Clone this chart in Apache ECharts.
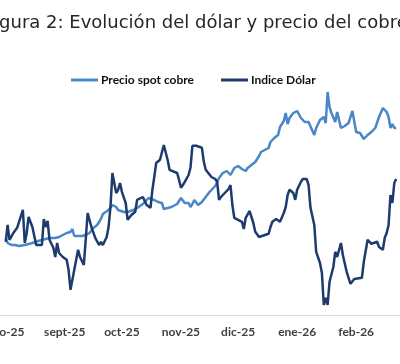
<!DOCTYPE html>
<html>
<head>
<meta charset="utf-8">
<script src="https://cdn.jsdelivr.net/npm/echarts@6/dist/echarts.min.js"></script>
<style>
html,body{margin:0;padding:0;background:#fff;}
#chart{width:400px;height:364px;}
</style>
</head>
<body>
<div id="chart"></div>
<script>
var titulo = 'Figura 2: Evolución del dólar y precio del cobre';
var nombreCobre = 'Precio spot cobre';
var nombreDolar = 'Indice Dólar';

var mesesInicio = ['2025-08-01','2025-09-01','2025-10-01','2025-11-01','2025-12-01','2026-01-01','2026-02-01'];
var mesesEtiqueta = ['ago-25','sept-25','oct-25','nov-25','dic-25','ene-26','feb-26'];

var cobreFechas = [
'2025-08-01','2025-08-02','2025-08-04','2025-08-06','2025-08-08','2025-08-09','2025-08-11','2025-08-13','2025-08-15','2025-08-16','2025-08-18','2025-08-20','2025-08-22','2025-08-24','2025-08-27','2025-08-29','2025-08-30',
'2025-09-02','2025-09-04','2025-09-05','2025-09-06','2025-09-08','2025-09-10','2025-09-12','2025-09-13','2025-09-14','2025-09-16','2025-09-18','2025-09-20','2025-09-21','2025-09-24','2025-09-26','2025-09-28','2025-09-29',
'2025-10-02','2025-10-04','2025-10-07','2025-10-09','2025-10-10','2025-10-12','2025-10-13','2025-10-15','2025-10-16','2025-10-18','2025-10-20','2025-10-22','2025-10-23','2025-10-25','2025-10-27','2025-10-30',
'2025-11-01','2025-11-03','2025-11-05','2025-11-06','2025-11-07','2025-11-08','2025-11-10','2025-11-12','2025-11-14','2025-11-16','2025-11-19','2025-11-21','2025-11-23','2025-11-25','2025-11-27','2025-11-29',
'2025-12-01','2025-12-03','2025-12-05','2025-12-06','2025-12-08','2025-12-10','2025-12-12','2025-12-13','2025-12-15','2025-12-17','2025-12-18','2025-12-20','2025-12-22','2025-12-23','2025-12-25','2025-12-26','2025-12-27','2025-12-28','2025-12-30',
'2026-01-01','2026-01-03','2026-01-05','2026-01-07','2026-01-08','2026-01-10','2026-01-11','2026-01-13','2026-01-15','2026-01-16','2026-01-17','2026-01-18','2026-01-19','2026-01-21','2026-01-22','2026-01-24','2026-01-26','2026-01-28','2026-01-30',
'2026-02-01','2026-02-03','2026-02-05','2026-02-07','2026-02-09','2026-02-11','2026-02-13','2026-02-15','2026-02-17','2026-02-18','2026-02-19','2026-02-20','2026-02-21','2026-02-22'
];
var cobreValores = [
9925,9800,9750,9750,9725,9700,9750,9775,9800,9810,9850,9875,9900,9925,9925,9950,10000,
10050,10075,10150,9975,9975,9975,10000,9975,10050,10175,10250,10400,10525,10625,10750,10700,10625,
10575,10575,10625,10675,10700,10775,10825,10925,10950,10875,10825,10800,10650,10675,10700,10775,
10925,10800,10800,10700,10775,10875,10750,10825,10950,11075,11225,11425,11550,11600,11500,11675,
11725,11650,11600,11675,11750,11825,11975,12075,12125,12175,12325,12425,12500,12700,12850,13050,12775,12925,13050,
13100,12925,12825,12825,12875,12500,12675,12875,12950,12800,13575,13200,13050,12825,13075,12675,12725,12800,13100,
12575,12550,12400,12500,12575,12675,12950,13175,13075,12950,12675,12775,12675,12675
];

var dolarFechas = [
'2025-08-01','2025-08-02','2025-08-03','2025-08-05','2025-08-07','2025-08-08','2025-08-10','2025-08-11','2025-08-12','2025-08-13','2025-08-15','2025-08-17','2025-08-20','2025-08-21','2025-08-22','2025-08-23','2025-08-24','2025-08-26','2025-08-27','2025-08-28','2025-08-29','2025-08-31',
'2025-09-02','2025-09-03','2025-09-04','2025-09-06','2025-09-08','2025-09-09','2025-09-11','2025-09-12','2025-09-13','2025-09-15','2025-09-17','2025-09-19','2025-09-20','2025-09-21','2025-09-23','2025-09-24','2025-09-25','2025-09-26','2025-09-28','2025-09-29','2025-09-30',
'2025-10-01','2025-10-03','2025-10-04','2025-10-06','2025-10-08','2025-10-09','2025-10-12','2025-10-13','2025-10-14','2025-10-16','2025-10-17','2025-10-18','2025-10-19','2025-10-21','2025-10-23','2025-10-24','2025-10-25','2025-10-26','2025-10-30','2025-10-31',
'2025-11-01','2025-11-02','2025-11-03','2025-11-05','2025-11-06','2025-11-07','2025-11-09','2025-11-12','2025-11-13','2025-11-14','2025-11-15','2025-11-17','2025-11-19','2025-11-20','2025-11-21','2025-11-22','2025-11-24','2025-11-26','2025-11-27','2025-11-28','2025-11-29',
'2025-12-01','2025-12-03','2025-12-04','2025-12-05','2025-12-07','2025-12-08','2025-12-09','2025-12-10','2025-12-12','2025-12-13','2025-12-17','2025-12-18','2025-12-19','2025-12-21','2025-12-22','2025-12-23','2025-12-25','2025-12-26','2025-12-27','2025-12-28','2025-12-30','2025-12-31',
'2026-01-01','2026-01-02','2026-01-03','2026-01-04','2026-01-06','2026-01-07','2026-01-08','2026-01-09','2026-01-10','2026-01-11','2026-01-13','2026-01-14','2026-01-15','2026-01-16','2026-01-17','2026-01-18','2026-01-20','2026-01-21','2026-01-22','2026-01-24','2026-01-25','2026-01-27','2026-01-29','2026-01-30','2026-01-31',
'2026-02-04','2026-02-05','2026-02-07','2026-02-09','2026-02-10','2026-02-12','2026-02-13','2026-02-14','2026-02-15','2026-02-16','2026-02-17','2026-02-18','2026-02-19','2026-02-20','2026-02-21','2026-02-22'
];
var dolarValores = [
97.58,98.00,97.63,97.80,97.93,97.95,98.38,97.55,97.80,98.20,97.95,97.50,97.50,98.15,97.95,98.10,97.63,97.43,97.20,97.55,97.30,97.20,
97.13,96.88,96.38,96.88,97.38,97.20,97.00,97.63,98.30,97.95,97.68,97.50,97.58,97.50,97.70,97.95,98.45,99.30,98.80,98.88,99.05,
98.83,98.55,98.13,98.25,98.33,98.63,98.70,98.65,98.50,98.43,98.88,99.20,99.55,99.63,100.00,100.00,99.63,99.38,99.30,99.13,
98.93,99.00,99.08,99.25,99.43,99.98,99.98,99.93,99.58,99.38,99.33,99.20,99.15,99.08,98.63,98.70,98.80,98.90,99.00,98.50,98.18,
98.13,98.08,97.90,98.18,98.35,98.20,98.05,97.83,97.70,97.73,97.78,97.95,98.08,98.15,98.13,98.08,98.30,98.45,98.75,98.88,98.80,98.63,
98.88,98.93,99.08,99.15,99.15,99.00,98.43,98.45,98.00,97.33,97.05,96.80,96.00,96.18,96.00,96.58,96.95,97.33,97.20,97.55,97.25,96.83,96.53,96.55,96.65,
96.68,97.08,97.63,97.53,97.48,97.58,97.45,97.50,97.38,97.68,97.80,98.00,98.75,98.55,99.05,99.15
];

function parseLocal(s) {
  var p = s.split('-');
  return new Date(+p[0], +p[1] - 1, +p[2]).getTime();
}
function pares(fechas, valores) {
  return fechas.map(function (f, i) { return [parseLocal(f), valores[i]]; });
}
var mesesTs = mesesInicio.map(parseLocal);

var chart = echarts.init(document.getElementById('chart'), null, {renderer: 'canvas'});
chart.setOption({
  animation: false,
  backgroundColor: '#ffffff',
  title: {
    text: titulo,
    left: -15,
    top: 14,
    padding: 0,
    textStyle: {fontFamily: 'DejaVu Sans', fontSize: 18, fontWeight: 'normal', color: '#262626'}
  },
  legend: {
    left: 66,
    top: 69,
    icon: 'rect',
    itemWidth: 27,
    itemHeight: 3,
    itemGap: 27,
    textStyle: {fontFamily: 'Lato', fontWeight: 'bold', fontSize: 12, color: '#111111', padding: [0, 0, 0, -2]},
    data: [nombreCobre, nombreDolar]
  },
  grid: {left: 0, right: 0, top: 85, bottom: 49, containLabel: false, outerBoundsMode: 'none'},
  xAxis: {
    type: 'time',
    min: parseLocal('2025-07-29'),
    max: parseLocal('2026-02-24'),
    splitNumber: 8,
    axisLine: {show: true, lineStyle: {color: '#d9d9d9', width: 1}},
    axisTick: {show: false},
    splitLine: {show: false},
    axisLabel: {
      margin: 11,
      fontFamily: 'Lato',
      fontWeight: 'bold',
      fontSize: 12,
      color: '#404040',
      showMinLabel: false,
      showMaxLabel: false,
      hideOverlap: false,
      formatter: function (v) {
        var i = mesesTs.indexOf(v);
        return i >= 0 ? mesesEtiqueta[i] : '';
      }
    }
  },
  yAxis: [
    {type: 'value', min: 8000, max: 13750, show: false, splitLine: {show: false}},
    {type: 'value', min: 95.75, max: 101.5, show: false, splitLine: {show: false}}
  ],
  series: [
    {
      name: nombreCobre, type: 'line', yAxisIndex: 0, showSymbol: false,
      lineStyle: {color: '#4a86c8', width: 2.5}, itemStyle: {color: '#4a86c8'},
      data: pares(cobreFechas, cobreValores)
    },
    {
      name: nombreDolar, type: 'line', yAxisIndex: 1, showSymbol: false,
      lineStyle: {color: '#1d3b6c', width: 2.5}, itemStyle: {color: '#1d3b6c'},
      data: pares(dolarFechas, dolarValores)
    }
  ]
});
</script>
</body>
</html>
